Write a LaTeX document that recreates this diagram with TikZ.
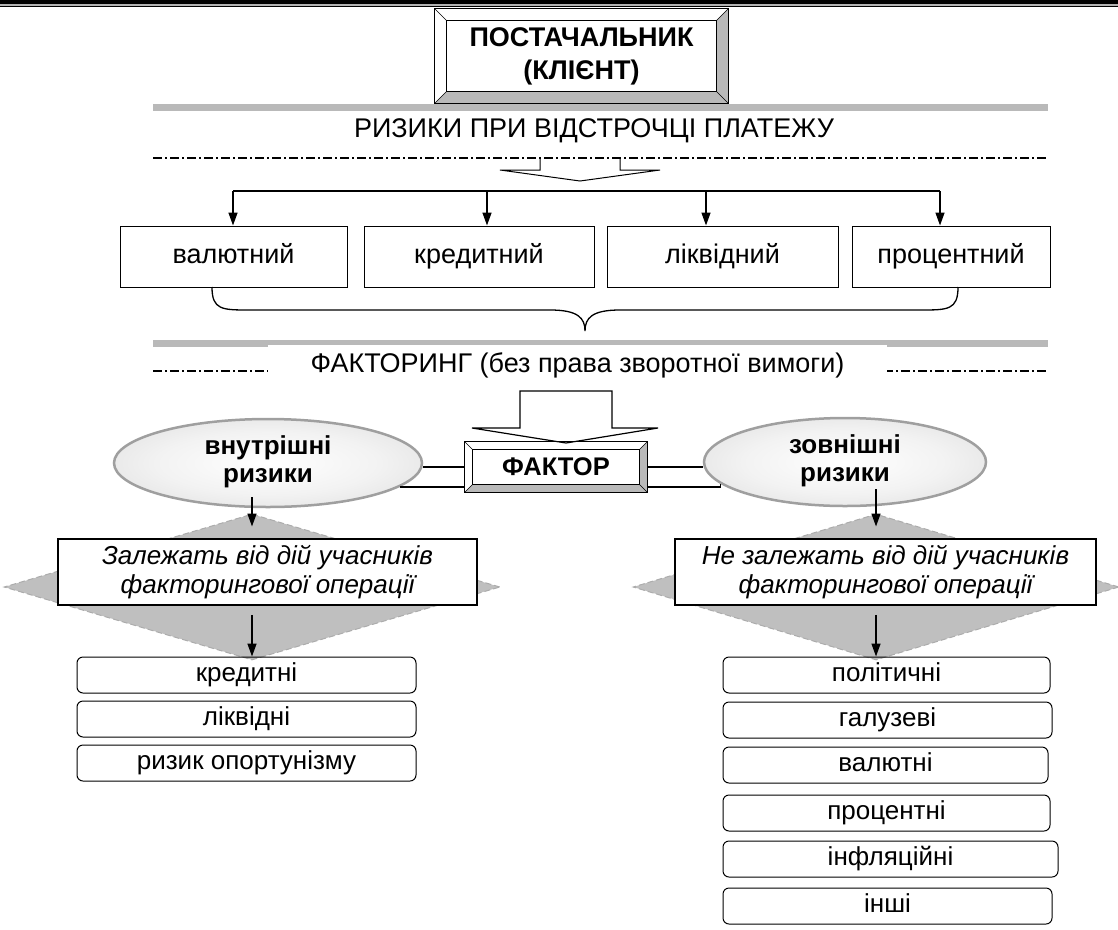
\documentclass[tikz,border=0pt]{standalone}
\usepackage{fontspec}
\setmainfont{Liberation Sans}
\usetikzlibrary{shapes.geometric,arrows.meta}

\newcommand\fsz[2]{\fontsize{#1}{#2}\selectfont}
\newcommand\ovaltext[2]{\raisebox{6pt}{\begin{tabular}{@{}c@{}}#1\\#2\end{tabular}}}

% ellipse shading: light centre, darker rim
\pgfdeclareradialshading{ovalshade}{\pgfpoint{0bp}{0bp}}{%
  color(0bp)=(white); color(18bp)=(gray!10); color(34bp)=(gray!25);
  color(44bp)=(gray!50); color(50bp)=(gray!80)}

% bevelled frame round an inner rectangle node
\newcommand\bevelframe[2]{%
  \fill[gray!55] (#1.north east) -- ([shift={(#2,#2)}]#1.north east)
    -- ([shift={(#2,-#2)}]#1.south east) -- (#1.south east) -- cycle;
  \fill[gray!55] (#1.south west) -- ([shift={(-#2,-#2)}]#1.south west)
    -- ([shift={(#2,-#2)}]#1.south east) -- (#1.south east) -- cycle;
  \draw[line width=1pt] ([shift={(-#2,-#2)}]#1.south west)
    rectangle ([shift={(#2,#2)}]#1.north east);
  \foreach \c/\sx/\sy in {north west/-1/1,north east/1/1,south west/-1/-1,south east/1/-1}
    \draw (#1.\c) -- ([shift={(\sx*#2,\sy*#2)}]#1.\c);
  \draw[line width=1pt] (#1.south west) rectangle (#1.north east);
}

\tikzset{
  framebox/.style={inner sep=0pt, align=center, font=\bfseries\fsz{27}{33}},
  riskbox/.style={draw, line width=1pt, minimum height=61, inner sep=0pt,
    text height=20pt, text depth=6pt, font=\fsz{27}{31}},
  itembox/.style={draw, line width=1pt, rounded corners=6pt, minimum height=36,
    inner sep=0pt, text height=19pt, text depth=6pt, font=\fsz{26}{30}},
  notebox/.style={draw, line width=1.5pt, fill=white, minimum height=66, inner sep=0pt,
    align=center, font=\itshape\fsz{26}{29}},
  oval/.style={ellipse, shading=ovalshade, draw=gray!75, line width=2.5pt,
    minimum width=308, minimum height=88, inner sep=0pt,
    font=\bfseries\fsz{26}{28}},
  diam/.style={diamond, draw=gray!65, fill=gray!50, line width=1pt,
    dash pattern=on 6pt off 3pt, minimum height=146, inner sep=0pt},
  dashdot/.style={line width=1.5pt, dash pattern=on 9pt off 3pt on 2pt off 3pt},
  arr/.style={line width=1.5pt, -{Triangle[length=13pt,width=9pt]}},
  barline/.style={fill=gray!55}
}

\begin{document}
\begin{tikzpicture}[x=1pt, y=-1pt]
  \useasboundingbox (0,0) rectangle (1118,929);
  % top rule
  \fill (0,0) rectangle (1118,3.5);
  \fill[gray!60] (0,3.5) rectangle (1118,5.5);
  \fill (0,5.5) rectangle (1118,7);

  \node[framebox, minimum width=269, minimum height=70] (post) at (581.5,56)
    {ПОСТАЧАЛЬНИК\\(КЛІЄНТ)};
  \bevelframe{post}{12pt}

  \fill[barline] (153,104) rectangle (1048,111);
  \node[font=\fsz{27}{31}] (title) at (594,131) {РИЗИКИ ПРИ ВІДСТРОЧЦІ ПЛАТЕЖУ};
  \draw[line width=1pt, fill=white]
    (540,158) -- (540,170) -- (500,170) -- (580,181) -- (660,170) -- (620,170) -- (620,158);
  \draw[dashdot] (153,158) -- (1048,158);

  \node[riskbox, minimum width=227] (r1) at (233.5,256.5) {валютний};
  \node[riskbox, minimum width=230] (r2) at (479,256.5) {кредитний};
  \node[riskbox, minimum width=231] (r3) at (722.5,256.5) {ліквідний};
  \node[riskbox, minimum width=198] (r4) at (951,256.5) {процентний};

  \coordinate (bus1) at (233,191);
  \coordinate (bus2) at (487,191);
  \coordinate (bus3) at (706,191);
  \coordinate (bus4) at (940,191);
  \draw[line width=1.5pt] (bus1) -- (bus4);
  \foreach \i in {1,...,4}
    \draw[arr] (bus\i) -- (bus\i |- r\i.north);

  % brace under the risks
  \draw[line width=1.3pt] (212,287) .. controls (212,310) and (222,310) .. (250,310)
    -- (550,310) .. controls (578,310) and (585,318) .. (585,331)
    .. controls (585,318) and (592,310) .. (620,310) -- (920,310)
    .. controls (948,310) and (958,310) .. (958,287);

  \fill[barline] (153,340) rectangle (1048,347);
  \draw[dashdot] (153,371) -- (1048,371);
  \node[fill=white, minimum width=619, minimum height=40, inner sep=0pt,
    font=\fsz{27}{31}] (fact) at (577.5,365) {ФАКТОРИНГ (без права зворотної вимоги)};

  \draw[line width=1.2pt, fill=white]
    (520,428) -- (520,391) -- (612,391) -- (612,428) -- (658,428) -- (566,443)
    -- (472,428) -- cycle;

  \node[framebox, minimum width=166, minimum height=34, font=\bfseries\fsz{25.5}{30}]
    (fac) at (556,467) {ФАКТОР};
  \bevelframe{fac}{8pt}

  \node[oval] (ovL) at (268,463) {\ovaltext{внутрішні}{ризики}};
  \node[oval, minimum width=282] (ovR) at (845,462) {\ovaltext{зовнішні}{ризики}};

  \draw[line width=1.2pt] ([xshift=-8pt]fac.west) -- (ovL.east |- fac.west);
  \draw[line width=1.2pt] ([shift={(-8pt,-20pt)}]fac.west) -| (ovL.350);
  \draw[line width=1.2pt] ([xshift=8pt]fac.east) -- (ovR.west |- fac.east);
  \draw[line width=1.2pt] ([shift={(8pt,-20pt)}]fac.east) -| (ovR.190);

  \node[diam, minimum width=496] (dL) at (252,587) {};
  \node[diam, minimum width=486] (dR) at (876,587) {};

  \draw[arr] ([yshift=11pt]ovL.south -| dL.north) -- ([yshift=-13pt]dL.north);
  \draw[arr] ([yshift=18pt]ovR.south -| dR.north) -- ([yshift=-13pt]dR.north);

  \node[notebox, minimum width=419] (noteL) at (267.5,572)
    {Залежать від дій учасників\\факторингової операції};
  \node[notebox, minimum width=421] (noteR) at (885.5,572)
    {Не залежать від дій учасників\\факторингової операції};

  \node[itembox, minimum width=339] (lL1) at (246.5,675) {кредитні};
  \node[itembox, minimum width=339] (lL2) at (246.5,719) {ліквідні};
  \node[itembox, minimum width=339] (lL3) at (246.5,763) {ризик опортунізму};

  \node[itembox, minimum width=327] (lR1) at (886.5,675) {політичні};
  \node[itembox, minimum width=329] (lR2) at (887.5,720) {галузеві};
  \node[itembox, minimum width=325] (lR3) at (885.5,765) {валютні};
  \node[itembox, minimum width=327] (lR4) at (886.5,813) {процентні};
  \node[itembox, minimum width=335] (lR5) at (890.5,859) {інфляційні};
  \node[itembox, minimum width=329] (lR6) at (887.5,906) {інші};

  \draw[arr] ([yshift=-9pt]noteL.south -| dL.south) -- (dL.south |- lL1.north);
  \draw[arr] ([yshift=-9pt]noteR.south -| dR.south) -- (dR.south |- lR1.north);
\end{tikzpicture}
\end{document}
